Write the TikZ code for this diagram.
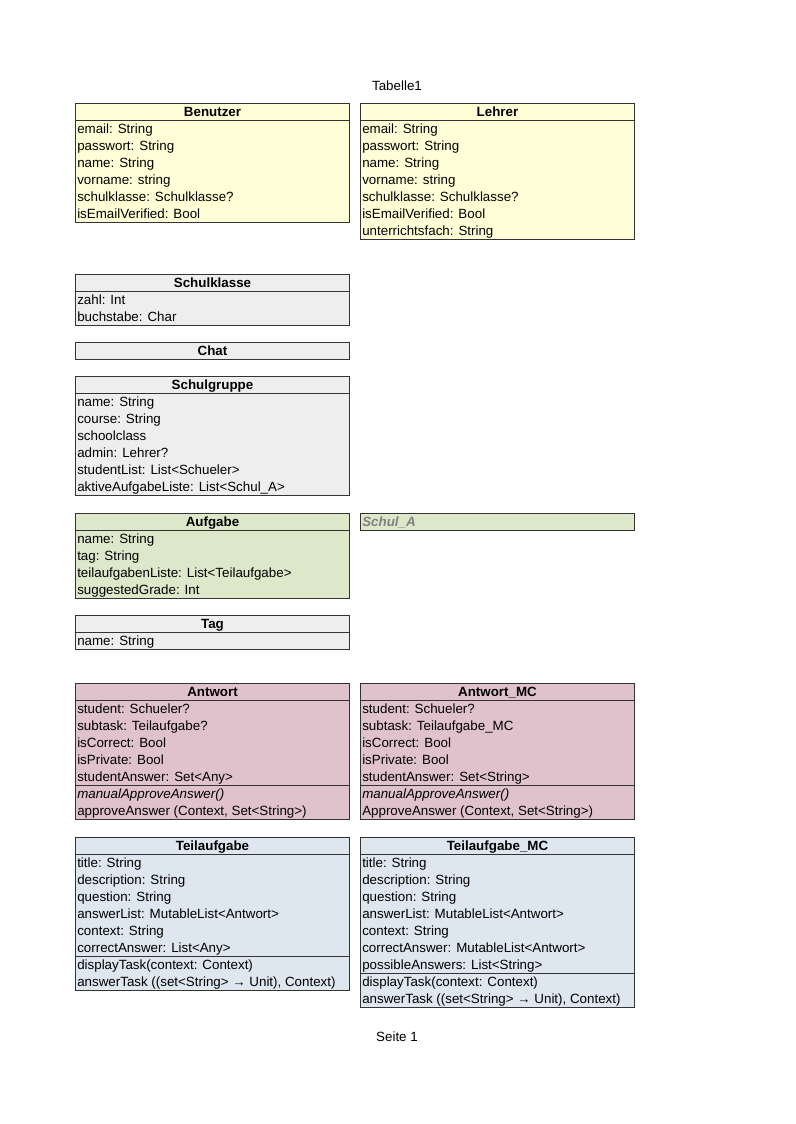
\documentclass[tikz,border=0pt]{standalone}
\usepackage{fontspec}
\setmainfont{Liberation Sans}
\usepackage{tikz}
\usetikzlibrary{positioning}
\definecolor{yellowcell}{HTML}{FFFFD7}
\definecolor{greycell}{HTML}{EEEEEE}
\definecolor{greencell}{HTML}{DDE8CB}
\definecolor{pinkcell}{HTML}{E0C2CD}
\definecolor{bluecell}{HTML}{DEE6EF}
\definecolor{cellframe}{HTML}{333333}
\definecolor{hintgrey}{HTML}{808080}

\begin{document}
\begin{tikzpicture}[x=0.7488pt,y=-0.7488pt,
	classbox/.style={draw=cellframe,line width=0.75pt},
	classhead/.style={anchor=base,inner sep=0pt,font=\fontsize{10}{12}\selectfont\bfseries},
	classrow/.style={anchor=base west,inner sep=0pt,font=\fontsize{10}{12}\selectfont},
	pagetext/.style={anchor=base,inner sep=0pt,font=\fontsize{10}{12}\selectfont}]
	\useasboundingbox (0,0) rectangle (795,1124);
	\node[pagetext] (tabelle) at (397,90.5) {Tabelle1};
	\node[pagetext] (seite) at (397,1041.5) {Seite 1};
	% Benutzer
	\filldraw[classbox,fill=yellowcell] (75.5,103.5) rectangle (349.5,222.5);
	\draw[classbox] (75.5,120.5) -- (349.5,120.5);
	\node[classhead] (benutzer) at (212.5,116.5) {Benutzer};
	\foreach \txt [count=\i] in {email: String,passwort: String,name: String,vorname: string,schulklasse: Schulklasse?,isEmailVerified: Bool}
		\node[classrow] (benutzer-\i) at (77,120.5+17*\i-4) {\txt};
	% Lehrer
	\filldraw[classbox,fill=yellowcell] (360.5,103.5) rectangle (634.5,239.5);
	\draw[classbox] (360.5,120.5) -- (634.5,120.5);
	\node[classhead] (lehrer) at (497.5,116.5) {Lehrer};
	\foreach \txt [count=\i] in {email: String,passwort: String,name: String,vorname: string,schulklasse: Schulklasse?,isEmailVerified: Bool,unterrichtsfach: String}
		\node[classrow] (lehrer-\i) at (362,120.5+17*\i-4) {\txt};
	% Schulklasse
	\filldraw[classbox,fill=greycell] (75.5,274.5) rectangle (349.5,325.5);
	\draw[classbox] (75.5,291.5) -- (349.5,291.5);
	\node[classhead] (schulklasse) at (212.5,287.5) {Schulklasse};
	\foreach \txt [count=\i] in {zahl: Int,buchstabe: Char}
		\node[classrow] (schulklasse-\i) at (77,291.5+17*\i-4) {\txt};
	% Chat
	\filldraw[classbox,fill=greycell] (75.5,342.5) rectangle (349.5,359.5);
	\node[classhead] (chat) at (212.5,355.5) {Chat};
	% Schulgruppe
	\filldraw[classbox,fill=greycell] (75.5,376.5) rectangle (349.5,495.5);
	\draw[classbox] (75.5,393.5) -- (349.5,393.5);
	\node[classhead] (schulgruppe) at (212.5,389.5) {Schulgruppe};
	\foreach \txt [count=\i] in {name: String,course: String,schoolclass,admin: Lehrer?,studentList: List<Schueler>,aktiveAufgabeListe: List<Schul\_A>}
		\node[classrow] (schulgruppe-\i) at (77,393.5+17*\i-4) {\txt};
	% Aufgabe
	\filldraw[classbox,fill=greencell] (75.5,513.5) rectangle (349.5,598.5);
	\draw[classbox] (75.5,530.5) -- (349.5,530.5);
	\node[classhead] (aufgabe) at (212.5,526.5) {Aufgabe};
	\foreach \txt [count=\i] in {name: String,tag: String,teilaufgabenListe: List<Teilaufgabe>,suggestedGrade: Int}
		\node[classrow] (aufgabe-\i) at (77,530.5+17*\i-4) {\txt};
	% Schul_A
	\filldraw[classbox,fill=greencell] (360.5,513.5) rectangle (634.5,530.5);
	\node[classrow,text=hintgrey,font=\fontsize{10}{12}\selectfont\bfseries\itshape] (schula) at (362,526.5) {Schul\_A};
	% Tag
	\filldraw[classbox,fill=greycell] (75.5,615.5) rectangle (349.5,649.5);
	\draw[classbox] (75.5,632.5) -- (349.5,632.5);
	\node[classhead] (tag) at (212.5,628.5) {Tag};
	\node[classrow] (tag-1) at (77,645.5) {name: String};
	% Antwort
	\filldraw[classbox,fill=pinkcell] (75.5,683.5) rectangle (349.5,819.5);
	\draw[classbox] (75.5,700.5) -- (349.5,700.5);
	\draw[classbox] (75.5,785.5) -- (349.5,785.5);
	\node[classhead] (antwort) at (212.5,696.5) {Antwort};
	\foreach \txt [count=\i] in {student: Schueler?,subtask: Teilaufgabe?,isCorrect: Bool,isPrivate: Bool,studentAnswer: Set<Any>,\textit{manualApproveAnswer()},{approveAnswer (Context, Set<String>)}}
		\node[classrow] (antwort-\i) at (77,700.5+17*\i-4) {\txt};
	% Antwort_MC
	\filldraw[classbox,fill=pinkcell] (360.5,683.5) rectangle (634.5,819.5);
	\draw[classbox] (360.5,700.5) -- (634.5,700.5);
	\draw[classbox] (360.5,785.5) -- (634.5,785.5);
	\node[classhead] (antwortmc) at (497.5,696.5) {Antwort\_MC};
	\foreach \txt [count=\i] in {student: Schueler?,subtask: Teilaufgabe\_MC,isCorrect: Bool,isPrivate: Bool,studentAnswer: Set<String>,\textit{manualApproveAnswer()},{ApproveAnswer (Context, Set<String>)}}
		\node[classrow] (antwortmc-\i) at (362,700.5+17*\i-4) {\txt};
	% Teilaufgabe
	\filldraw[classbox,fill=bluecell] (75.5,837.5) rectangle (349.5,990.5);
	\draw[classbox] (75.5,854.5) -- (349.5,854.5);
	\draw[classbox] (75.5,956.5) -- (349.5,956.5);
	\node[classhead] (teilaufgabe) at (212.5,850.5) {Teilaufgabe};
	\foreach \txt [count=\i] in {title: String,description: String,question: String,answerList: MutableList<Antwort>,context: String,correctAnswer: List<Any>,displayTask(context: Context),{answerTask ((set<String> → Unit), Context)}}
		\node[classrow] (teilaufgabe-\i) at (77,854.5+17*\i-4) {\txt};
	% Teilaufgabe_MC
	\filldraw[classbox,fill=bluecell] (360.5,837.5) rectangle (634.5,1007.5);
	\draw[classbox] (360.5,854.5) -- (634.5,854.5);
	\draw[classbox] (360.5,973.5) -- (634.5,973.5);
	\node[classhead] (teilaufgabemc) at (497.5,850.5) {Teilaufgabe\_MC};
	\foreach \txt [count=\i] in {title: String,description: String,question: String,answerList: MutableList<Antwort>,context: String,correctAnswer: MutableList<Antwort>,possibleAnswers: List<String>,displayTask(context: Context),{answerTask ((set<String> → Unit), Context)}}
		\node[classrow] (teilaufgabemc-\i) at (362,854.5+17*\i-4) {\txt};
\end{tikzpicture}
\end{document}
